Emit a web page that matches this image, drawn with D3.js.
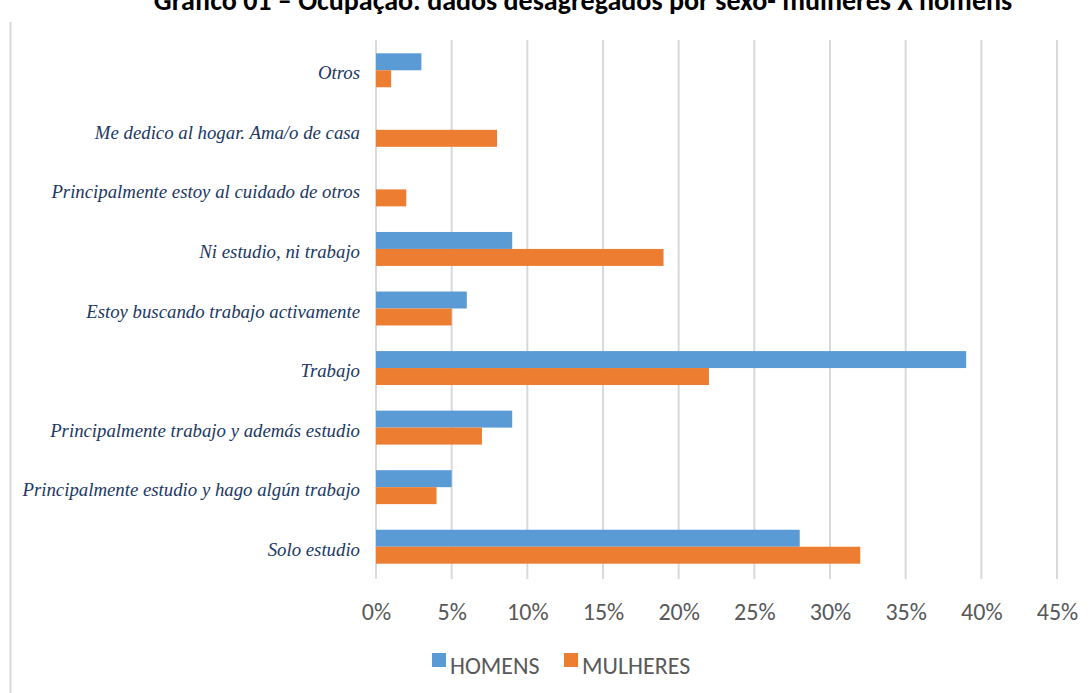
<!DOCTYPE html>
<html><head><meta charset="utf-8">
<script src="https://cdn.jsdelivr.net/npm/d3@7"></script>
<style>body{margin:0;background:#fff}svg{display:block}</style>
</head><body>
<script>
const categories = ["Otros","Me dedico al hogar. Ama/o de casa","Principalmente estoy al cuidado de otros","Ni estudio, ni trabajo","Estoy buscando trabajo activamente","Trabajo","Principalmente trabajo y además estudio","Principalmente estudio y hago algún trabajo","Solo estudio"];
const homens = [3,0,0,9,6,39,9,5,28];
const mulheres = [1,8,2,19,5,22,7,4,32];
const seriesNames = ["HOMENS","MULHERES"];
const ticks = [0,5,10,15,20,25,30,35,40,45];
const title = "Gráfico 01 – Ocupação: dados desagregados por sexo- mulheres X homens";

const W=1092,H=693;
const svg=d3.select("body").append("svg").attr("width",W).attr("height",H);
const colors=["#5B9BD5","#ED7D31"];
const sans="Carlito, 'Open Sans', sans-serif";

svg.append("line").attr("x1",10.5).attr("x2",10.5).attr("y1",22).attr("y2",H).attr("stroke","#D9D9D9").attr("stroke-width",2);

svg.append("text").attr("x",583).attr("y",10).attr("text-anchor","middle")
  .attr("font-family",sans).attr("font-weight","bold").attr("font-size",28).attr("fill","#000").text(title);

const x=d3.scaleLinear().domain([0,45]).range([376,1057]);
const y=d3.scaleBand().domain(categories).range([40.5,576.5]).paddingInner(0.43).paddingOuter(0.215);
const inner=d3.scaleBand().domain(seriesNames).range([0,y.bandwidth()]);

const g=svg.append("g");
g.selectAll("line.grid").data(ticks).join("line").attr("class","grid")
  .attr("x1",d=>x(d)).attr("x2",d=>x(d)).attr("y1",40).attr("y2",579)
  .attr("stroke","#D9D9D9").attr("stroke-width",2);

const data=[homens,mulheres];
data.forEach((vals,si)=>{
  g.selectAll("rect.s"+si).data(vals).join("rect").attr("class","s"+si)
   .attr("x",x(0)).attr("y",(d,i)=>y(categories[i])+inner(seriesNames[si]))
   .attr("width",d=>x(d)-x(0)).attr("height",inner.bandwidth()).attr("fill",colors[si]);
});

const xAxis=d3.axisBottom(x).tickValues(ticks).tickFormat(d=>d+"%").tickSize(0).tickPadding(0);
const ax=svg.append("g").attr("transform","translate(0,620)").call(xAxis);
ax.select(".domain").remove();
ax.selectAll("text").attr("font-family",sans).attr("font-size",24).attr("fill","#595959").attr("dy","0").attr("y",0);

const yAxis=d3.axisLeft(y).tickSize(0).tickPadding(16);
const ay=svg.append("g").attr("transform","translate(376,0)").call(yAxis);
ay.select(".domain").remove();
ay.selectAll("text").attr("font-family","'Liberation Serif', serif").attr("font-style","italic").attr("font-size",18.8).attr("fill","#203864").attr("dy","0.32em").attr("y",3);

const leg=svg.append("g");
const legX=[432,564];
seriesNames.forEach((n,i)=>{
  leg.append("rect").attr("x",legX[i]).attr("y",653).attr("width",14).attr("height",14).attr("fill",colors[i]);
  leg.append("text").attr("x",legX[i]+18).attr("y",674).attr("font-family",sans).attr("font-size",24).attr("fill","#595959").text(n);
});
</script>
</body></html>
